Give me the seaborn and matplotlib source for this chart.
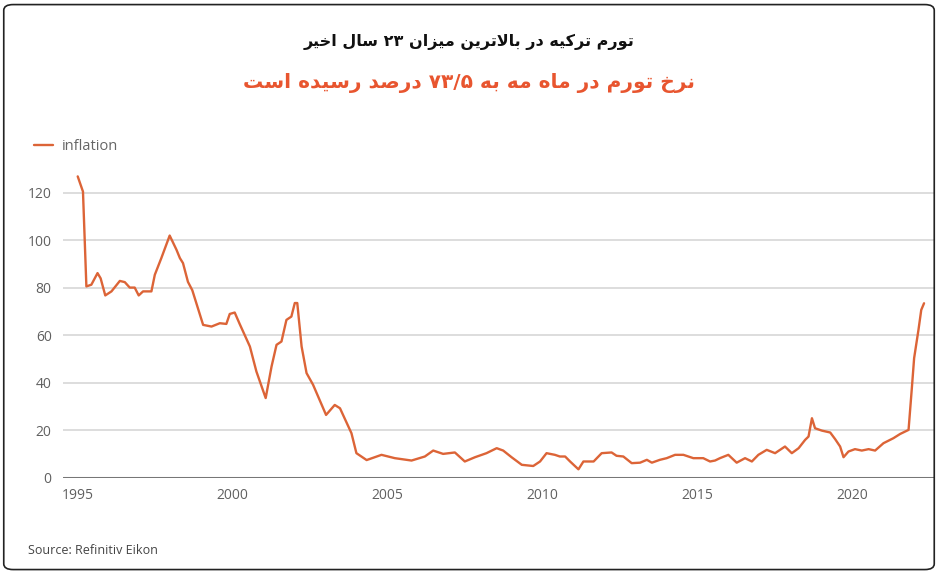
import re
import matplotlib
matplotlib.use("Agg")
import matplotlib.pyplot as plt
from matplotlib.patches import FancyBboxPatch
import pandas as pd
import seaborn as sns

# decimal year, yearly inflation (%)
years = [1995.00, 1995.17, 1995.28, 1995.44, 1995.64, 1995.74, 1995.89, 1996.09,
         1996.36, 1996.52, 1996.68, 1996.84, 1996.97, 1997.11, 1997.38, 1997.49,
         1997.70, 1997.97, 1998.19, 1998.30, 1998.40, 1998.56, 1998.70, 1999.05,
         1999.32, 1999.59, 1999.80, 1999.91, 2000.07, 2000.23, 2000.56, 2000.77,
         2001.07, 2001.26, 2001.42, 2001.58, 2001.74, 2001.90, 2002.01, 2002.09,
         2002.23, 2002.39, 2002.60, 2003.02, 2003.30, 2003.47, 2003.84, 2004.00,
         2004.33, 2004.81, 2005.24, 2005.78, 2006.21, 2006.48, 2006.80, 2007.18,
         2007.50, 2007.83, 2008.20, 2008.53, 2008.74, 2009.01, 2009.34, 2009.71,
         2009.93, 2010.14, 2010.41, 2010.57, 2010.74, 2010.90, 2011.17, 2011.33,
         2011.66, 2011.92, 2012.24, 2012.40, 2012.62, 2012.89, 2013.16, 2013.38,
         2013.54, 2013.80, 2014.02, 2014.29, 2014.56, 2014.88, 2015.20, 2015.42,
         2015.58, 2015.74, 2016.01, 2016.28, 2016.55, 2016.77, 2016.98, 2017.25,
         2017.52, 2017.84, 2018.06, 2018.28, 2018.49, 2018.60, 2018.71, 2018.81,
         2019.03, 2019.30, 2019.46, 2019.62, 2019.73, 2019.89, 2020.10, 2020.32,
         2020.54, 2020.75, 2021.02, 2021.34, 2021.56, 2021.83, 2021.94, 2022.01,
         2022.15, 2022.24, 2022.33]
inflation = [126.9, 120.5, 80.6, 81.3, 86.2, 84.0, 76.8, 78.5,
             82.9, 82.4, 80.1, 80.1, 76.8, 78.5, 78.5, 85.5,
             92.5, 102.0, 96.0, 92.5, 90.4, 82.5, 79.0, 64.4,
             63.7, 65.1, 64.8, 69.0, 69.6, 64.8, 55.3, 44.8,
             33.6, 46.9, 56.0, 57.4, 66.5, 67.9, 73.6, 73.6,
             55.3, 44.1, 39.2, 26.5, 30.7, 29.3, 18.8, 10.4,
             7.5, 9.7, 8.3, 7.3, 9.0, 11.5, 10.1, 10.7,
             6.9, 8.7, 10.4, 12.5, 11.5, 8.7, 5.5, 5.0,
             6.9, 10.4, 9.7, 9.0, 9.0, 6.9, 3.6, 6.9,
             6.9, 10.4, 10.7, 9.3, 9.0, 6.2, 6.4, 7.6,
             6.4, 7.6, 8.3, 9.7, 9.7, 8.3, 8.3, 6.9,
             7.3, 8.3, 9.7, 6.4, 8.3, 6.9, 9.7, 11.8,
             10.4, 13.2, 10.4, 12.5, 16.0, 17.4, 25.1, 20.9,
             19.9, 19.1, 16.3, 13.2, 8.7, 11.1, 12.1, 11.5,
             12.1, 11.5, 14.6, 16.7, 18.5, 20.2, 38.4, 50.4,
             62.3, 70.7, 73.5]

year_ticks = [1995, 2000, 2005, 2010, 2015, 2020]
value_ticks = [0, 20, 40, 60, 80, 100, 120]

title_top = "تورم ترکیه در بالاترین میزان ۲۳ سال اخیر"
title_sub = "نرخ تورم در ماه مه به ۷۳/۵ درصد رسیده است"
source = "Source: Refinitiv Eikon"

LINE = "#dc6437"
RED = "#e8552f"

# tiny arabic shaper: matplotlib has no bidi / joining of its own
FORMS = {  # isolated, final, initial, medial
    "ا": (0xFE8D, 0xFE8E), "د": (0xFEA9, 0xFEAA), "ر": (0xFEAD, 0xFEAE),
    "ز": (0xFEAF, 0xFEB0), "و": (0xFEED, 0xFEEE),
    "ب": (0xFE8F, 0xFE90, 0xFE91, 0xFE92), "ت": (0xFE95, 0xFE96, 0xFE97, 0xFE98),
    "خ": (0xFEA5, 0xFEA6, 0xFEA7, 0xFEA8), "س": (0xFEB1, 0xFEB2, 0xFEB3, 0xFEB4),
    "ص": (0xFEB9, 0xFEBA, 0xFEBB, 0xFEBC), "ل": (0xFEDD, 0xFEDE, 0xFEDF, 0xFEE0),
    "م": (0xFEE1, 0xFEE2, 0xFEE3, 0xFEE4), "ن": (0xFEE5, 0xFEE6, 0xFEE7, 0xFEE8),
    "ه": (0xFEE9, 0xFEEA, 0xFEEB, 0xFEEC), "ک": (0xFB8E, 0xFB8F, 0xFB90, 0xFB91),
    "ی": (0xFBFC, 0xFBFD, 0xFBFE, 0xFBFF),
    "لا": (0xFEFB, 0xFEFC),
}


def shape(text):
    chars = []
    i = 0
    while i < len(text):
        if text[i:i + 2] == "لا":
            chars.append("لا")
            i += 2
        else:
            chars.append(text[i])
            i += 1
    out = []
    for k, c in enumerate(chars):
        if c not in FORMS:
            out.append(c)
            continue
        prev = chars[k - 1] if k > 0 else ""
        nxt = chars[k + 1] if k + 1 < len(chars) else ""
        join_prev = prev in FORMS and len(FORMS[prev]) == 4
        join_next = len(FORMS[c]) == 4 and nxt in FORMS
        f = FORMS[c]
        if join_prev and join_next:
            out.append(chr(f[3]))
        elif join_next:
            out.append(chr(f[2]))
        elif join_prev:
            out.append(chr(f[1]))
        else:
            out.append(chr(f[0]))
    vis = "".join(out)[::-1]
    return re.sub(r"[۰-۹/]+", lambda m: m.group()[::-1], vis)


df = pd.DataFrame({"year": years, "inflation": inflation})

sns.set_theme(style="white")
plt.rcParams["font.family"] = ["Open Sans", "DejaVu Sans"]

fig = plt.figure(figsize=(9.38, 5.73), dpi=100)
ax = fig.add_axes([0.067, 0.166, 0.930, 0.539])

sns.lineplot(data=df, x="year", y="inflation", ax=ax, color=LINE,
             linewidth=1.7, label="inflation")

ax.set_xlim(1994.52, 2022.69)
ax.set_ylim(0, 130)
ax.set_xticks(year_ticks)
ax.set_yticks(value_ticks)
ax.set_xlabel("")
ax.set_ylabel("")
ax.tick_params(axis="both", length=0, labelsize=10, colors="#606060")
ax.tick_params(axis="y", pad=8)
ax.tick_params(axis="x", pad=7)
for v in value_ticks[1:]:
    ax.axhline(v, color="#dddddd", linewidth=1.4, zorder=0)
ax.axhline(0, color="#777777", linewidth=2.2, zorder=1)
for s in ax.spines.values():
    s.set_visible(False)

leg = ax.legend(loc="upper left", bbox_to_anchor=(0.022, 0.781),
                bbox_transform=fig.transFigure, frameon=False,
                handlelength=1.3, handletextpad=0.6, fontsize=10.5)
for t in leg.get_texts():
    t.set_color("#666666")

fig.text(0.5, 0.926, shape(title_top), ha="center", va="center",
         fontsize=11.5, fontweight="bold", color="#111111", family="DejaVu Sans")
fig.text(0.5, 0.855, shape(title_sub), ha="center", va="center",
         fontsize=14.5, fontweight="bold", color=RED, family="DejaVu Sans")
fig.text(0.030, 0.040, source, ha="left", va="center",
         fontsize=9, color="#444444")

frame = FancyBboxPatch((0.004, 0.006), 0.992, 0.986, transform=fig.transFigure,
                       boxstyle="round,pad=0,rounding_size=0.01",
                       facecolor="none", edgecolor="#222222", linewidth=1.2)
fig.patches.append(frame)

fig.savefig("out.png", dpi=100)
